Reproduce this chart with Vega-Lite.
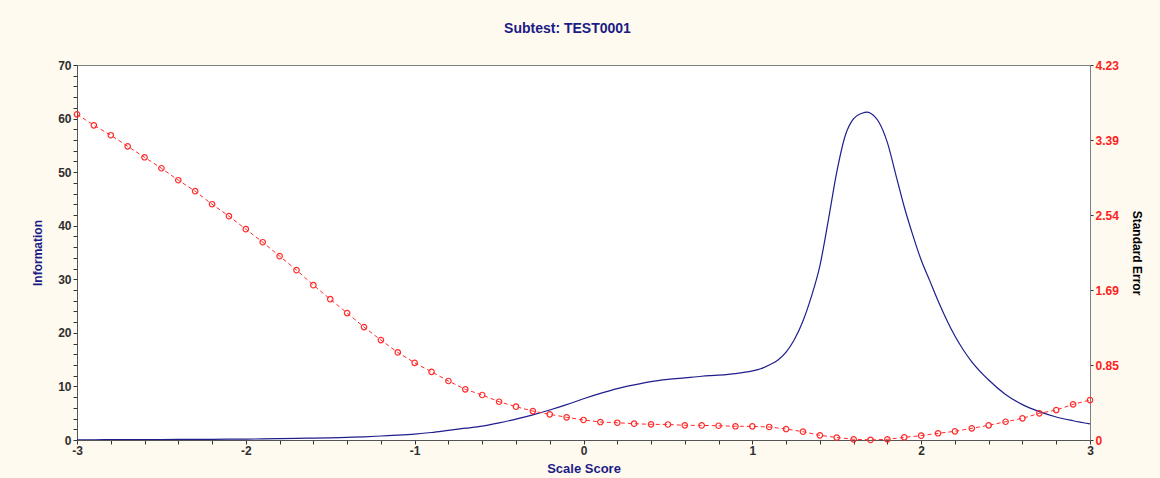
{
  "$schema": "https://vega.github.io/schema/vega-lite/v6.json",
  "autosize": {"type": "none"},
  "width": 1013,
  "height": 375,
  "padding": {"left": 77, "top": 65, "right": 70, "bottom": 38},
  "background": "#FFFAEF",
  "title": {
    "text": "Subtest: TEST0001",
    "anchor": "middle",
    "frame": "group",
    "dx": -16,
    "offset": 12,
    "baseline": "alphabetic",
    "font": "Liberation Sans",
    "fontSize": 14,
    "fontWeight": "bold",
    "color": "#1B1B86"
  },
  "config": {
    "view": {"stroke": "#808080", "strokeWidth": 1, "fill": "#FFFFFF"},
    "axis": {
      "grid": false,
      "labelFont": "Liberation Sans",
      "labelFontWeight": "bold",
      "labelFontSize": 12,
      "titleFont": "Liberation Sans",
      "titleFontWeight": "bold",
      "titleFontSize": 12,
      "domainColor": "#555555",
      "tickColor": "#333333",
      "labelOverlap": false
    }
  },
  "datasets": {
    "info": [
      {"x": -3.0, "info": 0.05}, {"x": -2.9, "info": 0.05}, {"x": -2.8, "info": 0.06}, {"x": -2.7, "info": 0.07},
      {"x": -2.6, "info": 0.08}, {"x": -2.5, "info": 0.09}, {"x": -2.4, "info": 0.1}, {"x": -2.3, "info": 0.12},
      {"x": -2.2, "info": 0.13}, {"x": -2.1, "info": 0.15}, {"x": -2.0, "info": 0.17}, {"x": -1.9, "info": 0.2},
      {"x": -1.8, "info": 0.25}, {"x": -1.7, "info": 0.3}, {"x": -1.6, "info": 0.35}, {"x": -1.5, "info": 0.4},
      {"x": -1.4, "info": 0.5}, {"x": -1.3, "info": 0.6}, {"x": -1.2, "info": 0.75}, {"x": -1.1, "info": 0.9},
      {"x": -1.0, "info": 1.1}, {"x": -0.9, "info": 1.4}, {"x": -0.8, "info": 1.8}, {"x": -0.7, "info": 2.2},
      {"x": -0.6, "info": 2.6}, {"x": -0.5, "info": 3.2}, {"x": -0.4, "info": 3.9}, {"x": -0.3, "info": 4.7},
      {"x": -0.2, "info": 5.6}, {"x": -0.1, "info": 6.6}, {"x": 0.0, "info": 7.7}, {"x": 0.1, "info": 8.7},
      {"x": 0.2, "info": 9.6}, {"x": 0.3, "info": 10.3}, {"x": 0.4, "info": 10.9}, {"x": 0.5, "info": 11.3},
      {"x": 0.6, "info": 11.6}, {"x": 0.7, "info": 11.9}, {"x": 0.8, "info": 12.1}, {"x": 0.9, "info": 12.4},
      {"x": 1.0, "info": 12.9}, {"x": 1.05, "info": 13.3}, {"x": 1.1, "info": 14.0}, {"x": 1.15, "info": 14.9},
      {"x": 1.2, "info": 16.4}, {"x": 1.25, "info": 18.8}, {"x": 1.3, "info": 22.2}, {"x": 1.35, "info": 26.8},
      {"x": 1.4, "info": 32.5}, {"x": 1.45, "info": 41.0}, {"x": 1.5, "info": 50.0}, {"x": 1.55, "info": 56.8},
      {"x": 1.6, "info": 60.0}, {"x": 1.65, "info": 61.0}, {"x": 1.68, "info": 61.2}, {"x": 1.7, "info": 61.0},
      {"x": 1.75, "info": 59.3}, {"x": 1.8, "info": 55.5}, {"x": 1.85, "info": 49.5}, {"x": 1.9, "info": 43.5},
      {"x": 1.95, "info": 38.3}, {"x": 2.0, "info": 33.6}, {"x": 2.05, "info": 29.8}, {"x": 2.1, "info": 26.0},
      {"x": 2.15, "info": 22.5}, {"x": 2.2, "info": 19.4}, {"x": 2.25, "info": 16.8}, {"x": 2.3, "info": 14.6},
      {"x": 2.4, "info": 11.2}, {"x": 2.5, "info": 8.5}, {"x": 2.6, "info": 6.6}, {"x": 2.7, "info": 5.3},
      {"x": 2.8, "info": 4.3}, {"x": 2.9, "info": 3.6}, {"x": 3.0, "info": 3.0}
    ],
    "se": [
      {"x": -3.0, "se": 3.677}, {"x": -2.9, "se": 3.553}, {"x": -2.8, "se": 3.441}, {"x": -2.7, "se": 3.316},
      {"x": -2.6, "se": 3.192}, {"x": -2.5, "se": 3.068}, {"x": -2.4, "se": 2.933}, {"x": -2.3, "se": 2.809},
      {"x": -2.2, "se": 2.662}, {"x": -2.1, "se": 2.527}, {"x": -2.0, "se": 2.380}, {"x": -1.9, "se": 2.233},
      {"x": -1.8, "se": 2.076}, {"x": -1.7, "se": 1.918}, {"x": -1.6, "se": 1.748}, {"x": -1.5, "se": 1.590},
      {"x": -1.4, "se": 1.433}, {"x": -1.3, "se": 1.275}, {"x": -1.2, "se": 1.128}, {"x": -1.1, "se": 0.989},
      {"x": -1.0, "se": 0.871}, {"x": -0.9, "se": 0.770}, {"x": -0.8, "se": 0.666}, {"x": -0.7, "se": 0.572},
      {"x": -0.6, "se": 0.508}, {"x": -0.5, "se": 0.432}, {"x": -0.4, "se": 0.376}, {"x": -0.3, "se": 0.327},
      {"x": -0.2, "se": 0.290}, {"x": -0.1, "se": 0.256}, {"x": 0.0, "se": 0.226}, {"x": 0.1, "se": 0.203},
      {"x": 0.2, "se": 0.195}, {"x": 0.3, "se": 0.184}, {"x": 0.4, "se": 0.177}, {"x": 0.5, "se": 0.175},
      {"x": 0.6, "se": 0.166}, {"x": 0.7, "se": 0.165}, {"x": 0.8, "se": 0.161}, {"x": 0.9, "se": 0.155},
      {"x": 1.0, "se": 0.154}, {"x": 1.1, "se": 0.147}, {"x": 1.2, "se": 0.124}, {"x": 1.3, "se": 0.094},
      {"x": 1.4, "se": 0.053}, {"x": 1.5, "se": 0.028}, {"x": 1.6, "se": 0.008}, {"x": 1.7, "se": 0.001},
      {"x": 1.8, "se": 0.008}, {"x": 1.9, "se": 0.030}, {"x": 2.0, "se": 0.049}, {"x": 2.1, "se": 0.076},
      {"x": 2.2, "se": 0.098}, {"x": 2.3, "se": 0.132}, {"x": 2.4, "se": 0.166}, {"x": 2.5, "se": 0.206},
      {"x": 2.6, "se": 0.245}, {"x": 2.7, "se": 0.301}, {"x": 2.8, "se": 0.338}, {"x": 2.9, "se": 0.403},
      {"x": 3.0, "se": 0.451}
    ]
  },
  "encoding": {
    "x": {
      "field": "x", "type": "quantitative",
      "scale": {"domain": [-3, 3], "nice": false, "zero": false},
      "axis": {
        "title": "Scale Score",
        "titleColor": "#1B1B86",
        "titleFontSize": 13,
        "titlePadding": 6,
        "labelColor": "#2E2E2E",
        "labelPadding": 1,
        "tickSize": 4,
        "values": [-3, -2.8, -2.6, -2.4, -2.2, -2, -1.8, -1.6, -1.4, -1.2, -1, -0.8, -0.6, -0.4, -0.2, 0, 0.2, 0.4, 0.6, 0.8, 1, 1.2, 1.4, 1.6, 1.8, 2, 2.2, 2.4, 2.6, 2.8, 3],
        "labelExpr": "abs(datum.value - round(datum.value)) < 0.001 ? '' + round(datum.value) : ''",
        "labelFlush": false,
        "labelOverlap": false
      }
    }
  },
  "layer": [
    {
      "data": {"name": "info"},
      "mark": {"type": "line", "color": "#1E1E8C", "strokeWidth": 1.2, "interpolate": "monotone", "clip": true},
      "encoding": {
        "y": {
          "field": "info", "type": "quantitative",
          "scale": {"domain": [0, 70], "nice": false},
          "axis": {
            "orient": "left",
            "title": "Information",
            "titleColor": "#1B1B86",
            "titlePadding": 13,
            "labelColor": "#2E2E2E",
            "labelPadding": 2,
            "tickSize": 4,
            "values": [0, 2, 4, 6, 8, 10, 12, 14, 16, 18, 20, 22, 24, 26, 28, 30, 32, 34, 36, 38, 40, 42, 44, 46, 48, 50, 52, 54, 56, 58, 60, 62, 64, 66, 68, 70],
            "labelExpr": "datum.value % 10 == 0 ? '' + datum.value : ''",
            "labelOverlap": false
          }
        }
      }
    },
    {
      "data": {"name": "se"},
      "mark": {"type": "line", "color": "#FF2A2A", "strokeWidth": 1, "strokeDash": [4, 3], "point": {"filled": false, "color": "#FF2A2A", "size": 30, "strokeWidth": 1.2}},
      "encoding": {
        "y": {
          "field": "se", "type": "quantitative",
          "scale": {"domain": [0, 4.2338], "nice": false},
          "axis": {
            "orient": "right",
            "title": "Standard Error",
            "titleColor": "#000000",
            "titlePadding": 11,
            "labelColor": "#FF2020",
            "labelPadding": 2,
            "tickSize": 3,
            "domainColor": "#808080",
            "values": [0, 0.84676, 1.69352, 2.54028, 3.38704, 4.2338],
            "labelExpr": "datum.value == 0 ? '0' : format(datum.value, '.2f')",
            "labelOverlap": false
          }
        }
      }
    }
  ],
  "resolve": {"scale": {"y": "independent"}}
}
